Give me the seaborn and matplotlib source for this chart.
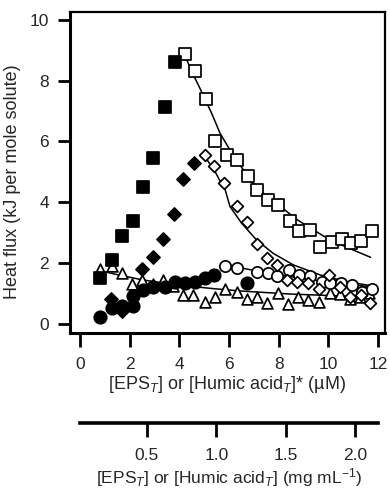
import matplotlib
matplotlib.use("Agg")
import matplotlib.pyplot as plt
import seaborn as sns

# filled squares
sq_f_x = [0.81, 1.28, 1.70, 2.15, 2.52, 2.95, 3.42, 3.83]
sq_f_y = [1.51, 2.10, 2.90, 3.38, 4.50, 5.45, 7.15, 8.63]

# filled diamonds
dm_f_x = [1.24, 1.68, 2.48, 2.93, 3.36, 3.79, 4.16, 4.60]
dm_f_y = [0.82, 0.42, 1.80, 2.21, 2.79, 3.62, 4.75, 5.30]

# filled circles
ci_f_x = [0.81, 1.28, 1.68, 2.15, 2.12, 2.52, 2.95, 3.42, 3.83, 4.23, 4.63, 5.03, 5.40, 6.74]
ci_f_y = [0.22, 0.52, 0.60, 0.59, 0.92, 1.12, 1.21, 1.22, 1.39, 1.34, 1.39, 1.50, 1.61, 1.36]

# open squares
sq_o_x = [4.23, 4.63, 5.07, 5.44, 5.91, 6.31, 6.78, 7.14, 7.58, 7.99, 8.46, 8.83, 9.26,
          9.67, 10.14, 10.54, 10.90, 11.32, 11.75]
sq_o_y = [8.88, 8.33, 7.39, 6.00, 5.56, 5.39, 4.88, 4.39, 4.08, 3.91, 3.37, 3.04, 3.09,
          2.54, 2.71, 2.79, 2.65, 2.74, 3.07]

# open diamonds
dm_o_x = [5.03, 5.41, 5.81, 6.31, 6.74, 7.11, 7.52, 7.92, 8.32, 8.73, 9.20, 9.64, 10.04,
          10.47, 10.87, 11.30, 11.68]
dm_o_y = [5.56, 5.20, 4.65, 3.88, 3.34, 2.62, 2.16, 1.94, 1.45, 1.39, 1.34, 1.15, 1.61,
          1.20, 0.90, 0.95, 0.70]

# open circles
ci_o_x = [5.84, 6.31, 7.14, 7.58, 7.95, 8.43, 8.83, 9.26, 9.73, 10.07, 10.50, 10.94, 11.34, 11.75]
ci_o_y = [1.91, 1.83, 1.72, 1.67, 1.56, 1.78, 1.61, 1.56, 1.39, 1.34, 1.34, 1.28, 1.06, 1.14]

# open triangles
tr_o_x = [0.81, 1.28, 1.68, 2.08, 2.48, 2.93, 3.36, 3.76, 4.16, 4.56, 5.03, 5.44, 5.84,
          6.31, 6.74, 7.11, 7.52, 7.99, 8.39, 8.79, 9.20, 9.64, 10.07, 10.47, 10.87, 11.28, 11.65]
tr_o_y = [1.80, 1.91, 1.67, 1.32, 1.45, 1.32, 1.45, 1.23, 0.95, 0.95, 0.73, 0.90, 1.14,
          1.06, 0.81, 0.90, 0.70, 1.01, 0.66, 0.90, 0.79, 0.73, 1.01, 0.99, 0.81, 0.90, 1.03]

# fit curves
fit_sq_x = [4.16, 4.50, 4.83, 5.30, 5.64, 6.04, 6.44, 6.91, 7.52, 8.05, 8.70, 9.40, 10.07, 11.00, 11.70]
fit_sq_y = [8.96, 8.30, 7.75, 6.93, 6.27, 5.72, 5.23, 4.68, 4.19, 3.88, 3.45, 3.09, 2.76, 2.43, 2.19]

fit_dm_x = [4.94, 5.20, 5.44, 5.64, 5.84, 6.04, 6.51, 7.11, 7.78, 8.59, 9.67, 10.74, 11.75]
fit_dm_y = [5.61, 5.30, 5.01, 4.70, 4.43, 3.86, 3.31, 2.76, 2.32, 1.94, 1.61, 1.39, 1.25]

fit_ci_x = [5.80, 6.50, 7.50, 8.50, 9.50, 10.50, 11.70]
fit_ci_y = [1.98, 1.84, 1.68, 1.55, 1.43, 1.33, 1.22]

fit_tr_x = [0.80, 1.50, 2.50, 3.50, 4.50, 5.50, 6.50, 7.50, 8.50, 9.50, 10.50, 11.70]
fit_tr_y = [1.75, 1.62, 1.45, 1.33, 1.23, 1.15, 1.08, 1.03, 0.98, 0.95, 0.92, 0.90]

x_ticks = [0, 2, 4, 6, 8, 10, 12]
y_ticks = [0, 2, 4, 6, 8, 10]
mass_ticks = [0.5, 1.0, 1.5, 2.0]
mass_labels = ["0.5", "1.0", "1.5", "2.0"]

sns.set_theme(style="ticks")
plt.rcParams["font.family"] = ["Liberation Sans", "DejaVu Sans"]
plt.rcParams["mathtext.fontset"] = "custom"
plt.rcParams["mathtext.rm"] = "Liberation Sans"
plt.rcParams["mathtext.it"] = "Liberation Sans:italic"

fig = plt.figure(figsize=(3.9, 4.91), dpi=100)
ax = fig.add_axes([70 / 390, 1 - 333 / 491, 315 / 390, 321 / 491])

# fit lines first, markers on top
for fx, fy in [(fit_sq_x, fit_sq_y), (fit_dm_x, fit_dm_y), (fit_ci_x, fit_ci_y), (fit_tr_x, fit_tr_y)]:
    sns.lineplot(x=fx, y=fy, ax=ax, color="black", linewidth=1.1, sort=False, zorder=2)

series = [
    (tr_o_x, tr_o_y, "^", "white", 60),
    (ci_o_x, ci_o_y, "o", "white", 66),
    (dm_o_x, dm_o_y, "D", "white", 36),
    (sq_o_x, sq_o_y, "s", "white", 74),
    (ci_f_x, ci_f_y, "o", "black", 80),
    (dm_f_x, dm_f_y, "D", "black", 44),
    (sq_f_x, sq_f_y, "s", "black", 84),
]
for sx, sy, mk, fc, size in series:
    sns.scatterplot(x=sx, y=sy, ax=ax, marker=mk, s=size, color=fc,
                    edgecolor="black", linewidth=1.25, zorder=3)

ax.set_xlim(-0.40, 12.28)
ax.set_ylim(-0.30, 10.26)
ax.set_xticks(x_ticks)
ax.set_yticks(y_ticks)
ax.tick_params(axis="x", direction="out", length=10, width=2, labelsize=12.5, pad=7, color="black")
ax.tick_params(axis="y", direction="out", length=9, width=2, labelsize=12.5, pad=6, color="black")
for side in ["left", "bottom"]:
    ax.spines[side].set_linewidth(2.2)
for side in ["top", "right"]:
    ax.spines[side].set_linewidth(1.6)
for sp in ax.spines.values():
    sp.set_color("black")
ax.set_ylabel("Heat flux (kJ per mole solute)", fontsize=13)
ax.yaxis.set_label_coords(-0.155, 0.47)
ax.set_xlabel("[EPS$_{T}$] or [Humic acid$_{T}$]* (µM)", fontsize=13, labelpad=2)

# secondary mass concentration axis
ax2 = fig.add_axes([80 / 390, 1 - 423 / 491, 298 / 390, 0.001])
ax2.set_xlim(0.017, 2.166)
ax2.set_xticks(mass_ticks)
ax2.set_xticklabels(mass_labels)
ax2.set_yticks([])
for side in ["left", "right", "top"]:
    ax2.spines[side].set_visible(False)
ax2.spines["bottom"].set_linewidth(2.6)
ax2.spines["bottom"].set_color("black")
ax2.set_facecolor("none")
ax2.tick_params(axis="x", direction="out", length=10, width=2, labelsize=12.5, pad=8, color="black")
ax2.set_xlabel("[EPS$_{T}$] or [Humic acid$_{T}$] (mg mL$^{-1}$)", fontsize=12.5, labelpad=2)

fig.savefig("out.png", dpi=100)
